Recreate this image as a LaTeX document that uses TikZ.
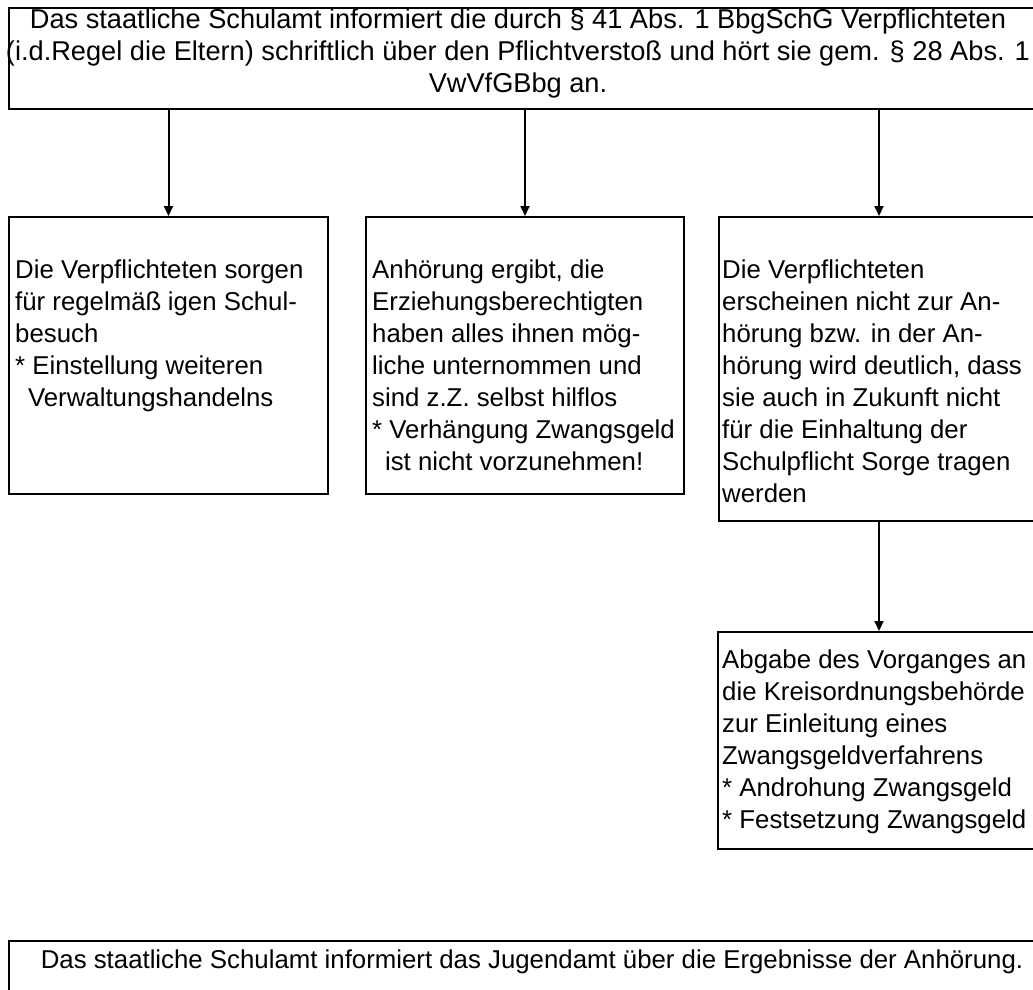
\documentclass[tikz,border=0pt]{standalone}
\usepackage{fontspec}
\setmainfont{Liberation Sans}
\usetikzlibrary{arrows.meta}
\begin{document}
\begin{tikzpicture}[x=1pt,y=-1pt,
  box/.style={draw, line width=2pt, rectangle, inner sep=0pt, anchor=north west},
  body/.style={anchor=north west, align=left, inner sep=0pt,
    font=\fontsize{25.8}{32}\selectfont},
  wide/.style={anchor=north, align=center, inner sep=0pt,
    font=\fontsize{25.8}{32}\selectfont},
  arr/.style={-{Triangle[length=10pt,width=9pt]}, line width=2pt}]
\clip (0,0) rectangle (1033,990);
\fill[white] (0,0) rectangle (1033,990);

% boxes
\node[box, minimum width=1032pt, minimum height=101pt] (top) at (8,7) {};
\node[box, minimum width=319pt, minimum height=277pt] (b1) at (8,216) {};
\node[box, minimum width=318pt, minimum height=277pt] (b2) at (365,216) {};
\node[box, minimum width=320pt, minimum height=304pt] (b3) at (718,216) {};
\node[box, minimum width=322pt, minimum height=217pt] (b4) at (717,631) {};
\node[box, minimum width=1032pt, minimum height=80pt] (bot) at (8,940) {};

% texts
\node[wide, font=\fontsize{27.2}{32}\selectfont] (ttop) at (518,9)
  {Das staatliche Schulamt informiert die durch \S\ 41 Abs. 1 BbgSchG Verpflichteten\\
   (i.d.Regel die Eltern) schriftlich über den Pflichtverstoß und hört sie gem. \S\ 28 Abs. 1\\
   VwVfGBbg an.};
\node[body] (t1) at (15,260)
  {Die Verpflichteten sorgen\\
   für regelmäß\hspace{0.25em}igen Schul-\\
   besuch\\
   * Einstellung weiteren\\
   \hspace*{0.5em}Verwaltungshandelns};
\node[body] (t2) at (372,260)
  {Anhörung ergibt, die\\
   Erziehungsberechtigten\\
   haben alles ihnen mög-\\
   liche unternommen und\\
   sind z.Z. selbst hilflos\\
   * Verhängung Zwangsgeld\\
   \hspace*{0.5em}ist nicht vorzunehmen!};
\node[body] (t3) at (722,260)
  {Die Verpflichteten\\
   erscheinen nicht zur An-\\
   hörung bzw. in der An-\\
   hörung wird deutlich, dass\\
   sie auch in Zukunft nicht\\
   für die Einhaltung der\\
   Schulpflicht Sorge tragen\\
   werden};
\node[body] (t4) at (722,650)
  {Abgabe des Vorganges an\\
   die Kreisordnungsbehörde\\
   zur Einleitung eines\\
   Zwangsgeldverfahrens\\
   * Androhung Zwangsgeld\\
   * Festsetzung Zwangsgeld};
\node[wide] (tbot) at (532,950)
  {Das staatliche Schulamt informiert das Jugendamt über die Ergebnisse der Anhörung.};

% connectors
\draw[arr] (top.south -| b1.north) -- (b1.north);
\draw[arr] (top.south -| b2.north) -- (b2.north);
\draw[arr] (top.south -| b3.north) -- (b3.north);
\draw[arr] (b3.south) -- (b4.north);
\end{tikzpicture}
\end{document}
